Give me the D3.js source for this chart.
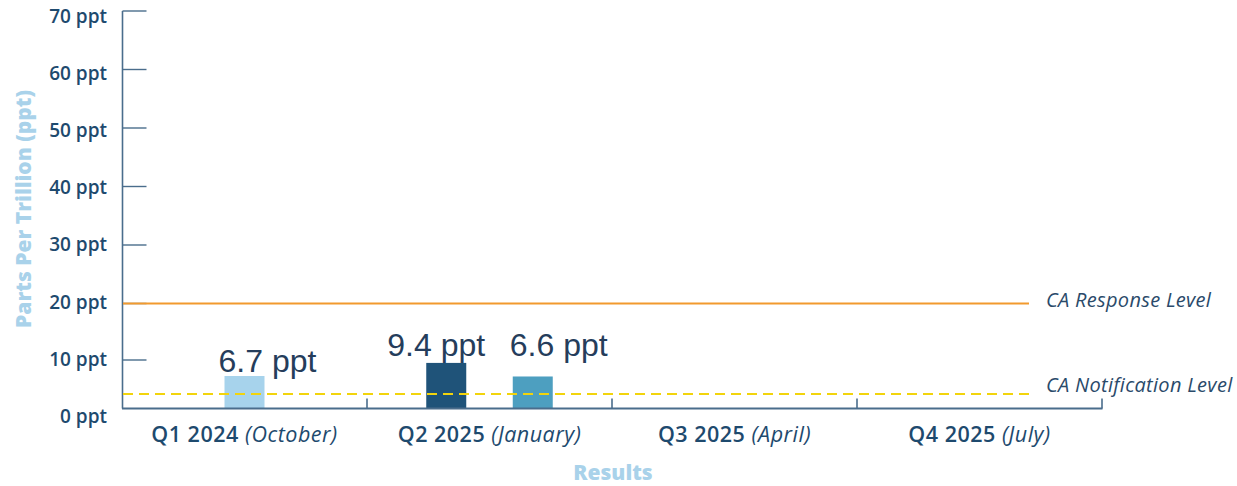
<!DOCTYPE html>
<html>
<head>
<meta charset="utf-8">
<script src="https://cdn.jsdelivr.net/npm/d3@7"></script>
<style>
  html, body { margin: 0; padding: 0; background: #ffffff; }
  svg { display: block; }
</style>
</head>
<body>
<svg id="chart" width="1237" height="486"></svg>
<script>
// ---- data ----
const categories = ["Q1 2024", "Q2 2025", "Q3 2025", "Q4 2025"];
const categoryMonths = ["(October)", "(January)", "(April)", "(July)"];
const barCategories = ["Q1 2024", "Q2 2025", "Q2 2025"];
const barSeries = ["s1", "s2", "s3"];
const barValues = [6.7, 9.4, 6.6];
const barLabels = ["6.7 ppt", "9.4 ppt", "6.6 ppt"];
const yTickValues = [0, 10, 20, 30, 40, 50, 60, 70];
const yTickLabels = ["0 ppt", "10 ppt", "20 ppt", "30 ppt", "40 ppt", "50 ppt", "60 ppt", "70 ppt"];
const refValues = [20, 3];
const refLabels = ["CA Response Level", "CA Notification Level"];

// ---- styles ----
const seriesColors = { s1: "#a7d3ec", s2: "#1f5379", s3: "#4d9fc0" };
const valueLabelShift = [[23, -4], [-10, -7], [26, -20]]; // label placement tweaks (px)
const refLabelShift = [-4, -9];
const axisColor = "#4a6d8c";
const textDark = "#1e4a6e";
const titleColor = "#a9d2ea";
const font = "'Open Sans', Lato, sans-serif";

const svg = d3.select("#chart");

const x = d3.scaleBand().domain(categories).range([122, 1102]).padding(0);
// piecewise scale reproducing the original axis spacing
const y = d3.scaleLinear().domain([0, 10, 20, 70]).range([408.5, 360, 303.5, 11]);
const labelY = d3.scaleLinear().domain([0, 70]).range([416, 16.5]);

// y axis line
svg.append("line")
  .attr("x1", 122.5).attr("x2", 122.5)
  .attr("y1", y(70)).attr("y2", y(0))
  .attr("stroke", axisColor).attr("stroke-width", 1.6);

// y ticks
svg.selectAll(".ytick").data(yTickValues.filter(d => d > 0)).enter()
  .append("line")
  .attr("x1", 122.5).attr("x2", 146.5)
  .attr("y1", d => y(d)).attr("y2", d => y(d))
  .attr("stroke", axisColor).attr("stroke-width", 1.4);

svg.selectAll(".ylab").data(yTickValues).enter()
  .append("text")
  .attr("x", 107).attr("y", d => labelY(d))
  .attr("dy", "0.35em")
  .attr("text-anchor", "end")
  .attr("font-family", font)
  .attr("font-weight", 600)
  .attr("font-size", 19)
  .attr("fill", textDark)
  .text((d, i) => yTickLabels[i]);

// response level
svg.append("line")
  .attr("x1", 123).attr("x2", 1029)
  .attr("y1", y(refValues[0])).attr("y2", y(refValues[0]))
  .attr("stroke", "#f29a2e").attr("stroke-width", 2);

// bars
const barData = barValues.map((v, i) => ({ cat: barCategories[i], series: barSeries[i], value: v, label: barLabels[i], idx: i }));
const grouped = d3.group(barData, d => d.cat);
const step = 86.5, barW = 40;
barData.forEach(d => {
  const members = grouped.get(d.cat);
  const inner = d3.scaleBand().domain(members.map(m => m.series))
    .range([-members.length * step / 2, members.length * step / 2]);
  d.cx = x(d.cat) + x.bandwidth() / 2 + inner(d.series) + inner.bandwidth() / 2;
});

svg.selectAll(".bar").data(barData).enter()
  .append("rect")
  .attr("x", d => d.cx - barW / 2)
  .attr("width", barW)
  .attr("y", d => y(d.value))
  .attr("height", d => y(0) - y(d.value))
  .attr("fill", d => seriesColors[d.series]);

svg.selectAll(".vlab").data(barData).enter()
  .append("text")
  .attr("x", d => d.cx + valueLabelShift[d.idx][0])
  .attr("y", d => y(d.value) + valueLabelShift[d.idx][1])
  .attr("text-anchor", "middle")
  .attr("font-family", "'Liberation Sans', Arial, sans-serif")
  .attr("font-size", 32)
  .attr("fill", "#253d5b")
  .text(d => d.label);

// notification level (dashed) drawn over bars
svg.append("line")
  .attr("x1", 123).attr("x2", 1029)
  .attr("y1", y(refValues[1])).attr("y2", y(refValues[1]))
  .attr("stroke", "#f2d40c").attr("stroke-width", 2)
  .attr("stroke-dasharray", "10,6");

// ref labels
svg.selectAll(".reflab").data(refValues).enter()
  .append("text")
  .attr("x", 1046).attr("y", (d, i) => y(d) + refLabelShift[i])
  .attr("dy", "0.35em")
  .attr("font-family", font)
  .attr("font-style", "italic")
  .attr("font-size", 20)
  .attr("letter-spacing", 0.3)
  .attr("fill", "#2a4a6a")
  .text((d, i) => refLabels[i]);

// x axis baseline
svg.append("line")
  .attr("x1", 122).attr("x2", 1102.5)
  .attr("y1", y(0)).attr("y2", y(0))
  .attr("stroke", axisColor).attr("stroke-width", 2);

// x category boundary ticks
svg.selectAll(".xtick").data(categories).enter()
  .append("line")
  .attr("x1", d => x(d) + x.bandwidth()).attr("x2", d => x(d) + x.bandwidth())
  .attr("y1", y(0) - 10).attr("y2", y(0))
  .attr("stroke", axisColor).attr("stroke-width", 1.6);

// category labels
const catText = svg.selectAll(".xlab").data(categories).enter()
  .append("text")
  .attr("x", d => x(d) + x.bandwidth() / 2)
  .attr("y", 434)
  .attr("dy", "0.35em")
  .attr("text-anchor", "middle")
  .attr("font-family", font)
  .attr("font-size", 21.5)
  .attr("letter-spacing", 0.5)
  .attr("fill", textDark);
catText.append("tspan").attr("font-weight", 600).text(d => d + " ");
catText.append("tspan").attr("font-style", "italic").attr("font-weight", 400)
  .text((d, i) => categoryMonths[i]);

// axis titles
svg.append("text")
  .attr("transform", "translate(24,209) rotate(-90)")
  .attr("dy", "0.35em")
  .attr("text-anchor", "middle")
  .attr("font-family", font)
  .attr("font-weight", 800)
  .attr("font-size", 21)
  .attr("fill", titleColor)
  .text("Parts Per Trillion (ppt)");

svg.append("text")
  .attr("x", 613).attr("y", 473)
  .attr("dy", "0.35em")
  .attr("text-anchor", "middle")
  .attr("font-family", font)
  .attr("font-weight", 800)
  .attr("font-size", 21)
  .attr("fill", titleColor)
  .text("Results");
</script>
</body>
</html>
